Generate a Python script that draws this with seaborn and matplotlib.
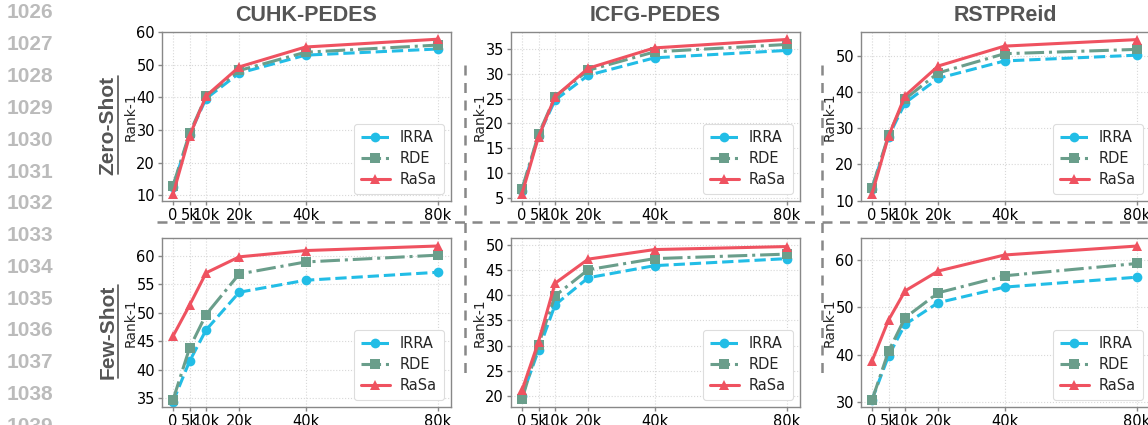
import pandas as pd
import seaborn as sns
import matplotlib.pyplot as plt
from matplotlib.lines import Line2D

sns.set_theme(style="whitegrid", context="paper")
plt.rcParams.update({
    "font.family": ["DejaVu Sans"],
    "axes.edgecolor": "#888888",
    "axes.linewidth": 1.0,
    "grid.color": "#d8d8d8",
    "grid.linestyle": ":",
    "grid.linewidth": 0.8,
    "xtick.bottom": True,
    "ytick.left": True,
    "xtick.major.size": 3,
    "ytick.major.size": 3,
    "xtick.color": "#888888",
    "ytick.color": "#888888",
    "xtick.labelcolor": "black",
    "ytick.labelcolor": "black",
})

# data (Rank-1)
steps = [0, 5, 10, 20, 40, 80]
step_labels = ["0", "5k", "10k", "20k", "40k", "80k"]
methods = ["IRRA", "RDE", "RaSa"]
datasets = ["CUHK-PEDES", "ICFG-PEDES", "RSTPReid"]
settings = ["Zero-Shot", "Few-Shot"]

cuhk_zero_irra = [12.5, 28.5, 39.6, 47.4, 52.9, 54.8]
cuhk_zero_rde = [12.8, 28.9, 40.3, 48.2, 53.8, 56.0]
cuhk_zero_rasa = [10.2, 28.1, 40.4, 49.3, 55.4, 57.8]
cuhk_few_irra = [34.4, 41.5, 47.0, 53.6, 55.7, 57.1]
cuhk_few_rde = [34.7, 43.8, 49.7, 56.8, 58.9, 60.1]
cuhk_few_rasa = [45.9, 51.3, 57.0, 59.8, 60.9, 61.7]

icfg_zero_irra = [6.5, 17.5, 24.7, 29.7, 33.2, 34.7]
icfg_zero_rde = [6.8, 17.8, 25.4, 30.7, 34.4, 35.9]
icfg_zero_rasa = [5.8, 17.3, 25.4, 31.1, 35.2, 36.9]
icfg_few_irra = [19.9, 29.1, 38.1, 43.5, 45.9, 47.3]
icfg_few_rde = [19.3, 30.2, 39.9, 45.1, 47.3, 48.2]
icfg_few_rasa = [21.1, 30.8, 42.4, 47.2, 49.1, 49.7]

rstp_zero_irra = [13.3, 27.7, 37.0, 43.8, 48.6, 50.2]
rstp_zero_rde = [13.4, 28.1, 38.1, 45.3, 50.6, 51.8]
rstp_zero_rasa = [11.8, 27.8, 39.0, 47.2, 52.7, 54.5]
rstp_few_irra = [30.4, 39.7, 46.4, 51.0, 54.3, 56.4]
rstp_few_rde = [30.3, 40.7, 47.8, 53.1, 56.7, 59.3]
rstp_few_rasa = [38.6, 47.3, 53.5, 57.7, 61.1, 63.0]

series = {
    ("Zero-Shot", "CUHK-PEDES"): [cuhk_zero_irra, cuhk_zero_rde, cuhk_zero_rasa],
    ("Few-Shot", "CUHK-PEDES"): [cuhk_few_irra, cuhk_few_rde, cuhk_few_rasa],
    ("Zero-Shot", "ICFG-PEDES"): [icfg_zero_irra, icfg_zero_rde, icfg_zero_rasa],
    ("Few-Shot", "ICFG-PEDES"): [icfg_few_irra, icfg_few_rde, icfg_few_rasa],
    ("Zero-Shot", "RSTPReid"): [rstp_zero_irra, rstp_zero_rde, rstp_zero_rasa],
    ("Few-Shot", "RSTPReid"): [rstp_few_irra, rstp_few_rde, rstp_few_rasa],
}

rows = []
for (setting, ds), vals in series.items():
    for m, ys in zip(methods, vals):
        for s, y in zip(steps, ys):
            rows.append({"setting": setting, "dataset": ds, "method": m, "step": s, "rank1": y})
df = pd.DataFrame(rows)

colors = {"IRRA": "#22bde6", "RDE": "#6a9e8b", "RaSa": "#ef5260"}
styles = {"IRRA": "--", "RDE": "-.", "RaSa": "-"}
markers = {"IRRA": "o", "RDE": "s", "RaSa": "^"}

ylims = {
    ("Zero-Shot", "CUHK-PEDES"): (8.2, 60, [10, 20, 30, 40, 50, 60]),
    ("Few-Shot", "CUHK-PEDES"): (33.5, 63.1, [35, 40, 45, 50, 55, 60]),
    ("Zero-Shot", "ICFG-PEDES"): (4.4, 38.4, [5, 10, 15, 20, 25, 30, 35]),
    ("Few-Shot", "ICFG-PEDES"): (17.8, 51.4, [20, 25, 30, 35, 40, 45, 50]),
    ("Zero-Shot", "RSTPReid"): (9.9, 56.6, [10, 20, 30, 40, 50]),
    ("Few-Shot", "RSTPReid"): (28.9, 64.7, [30, 40, 50, 60]),
}

W, H = 1148, 425
fig = plt.figure(figsize=(W / 100, H / 100), dpi=100)

col_left = [162, 511, 861]
row_top = [32, 238]
ax_w, ax_h = 289, 169

for i, setting in enumerate(settings):
    for j, ds in enumerate(datasets):
        ax = fig.add_axes([col_left[j] / W, 1 - (row_top[i] + ax_h) / H, ax_w / W, ax_h / H])
        sub = df[(df["setting"] == setting) & (df["dataset"] == ds)]
        for m in methods:
            sns.lineplot(data=sub[sub["method"] == m], x="step", y="rank1", ax=ax,
                         color=colors[m], linestyle=styles[m], marker=markers[m],
                         markersize=7, markeredgewidth=0, linewidth=2.2, label=m)
        lo, hi, ticks = ylims[(setting, ds)]
        ax.set_ylim(lo, hi)
        ax.set_yticks(ticks)
        ax.set_xlim(-3.3, 83.9)
        ax.set_xticks(steps)
        ax.set_xticklabels(step_labels)
        ax.tick_params(labelsize=10.5, pad=2)
        ax.set_xlabel("")
        ax.set_ylabel("Rank-1", fontsize=10)
        ax.yaxis.set_label_coords(-0.085, 0.5)
        ax.legend(loc="lower right", fontsize=10.5, handlelength=2.0, borderpad=0.45,
                  labelspacing=0.4, handletextpad=0.7, framealpha=1, edgecolor="#dddddd")
        if i == 0:
            ax.set_title(ds, fontsize=15.5, fontweight="bold", color="#555555", pad=8,
                         family=["Liberation Sans", "DejaVu Sans"])

# row labels with underline
for label, y0, y1 in [("Zero-Shot", 76, 174), ("Few-Shot", 285, 378)]:
    fig.text(108 / W, 1 - (y0 + y1) / 2 / H, label, rotation=90, ha="center", va="center",
             fontsize=15, fontweight="bold", color="#555555",
             family=["Liberation Sans", "DejaVu Sans"])
    fig.add_artist(Line2D([117.5 / W, 117.5 / W], [1 - y0 / H, 1 - y1 / H],
                          color="#555555", linewidth=1.2))

# dashed separators
dash = dict(color="#888888", linewidth=1.8, linestyle=(0, (4, 3)))
fig.add_artist(Line2D([157 / W, 1], [1 - 222 / H, 1 - 222 / H], **dash))
for x in [465, 822]:
    fig.add_artist(Line2D([x / W, x / W], [1 - 65 / H, 1 - 373 / H], **dash))

# line numbers in the margin
for k in range(14):
    fig.text(30 / W, 1 - (13 + k * 31.8) / H, str(1026 + k), ha="center", va="center",
             fontsize=15, fontweight="bold", color="#bbbbbb",
             family=["Liberation Sans", "DejaVu Sans"])

fig.savefig("out.png", dpi=100)
